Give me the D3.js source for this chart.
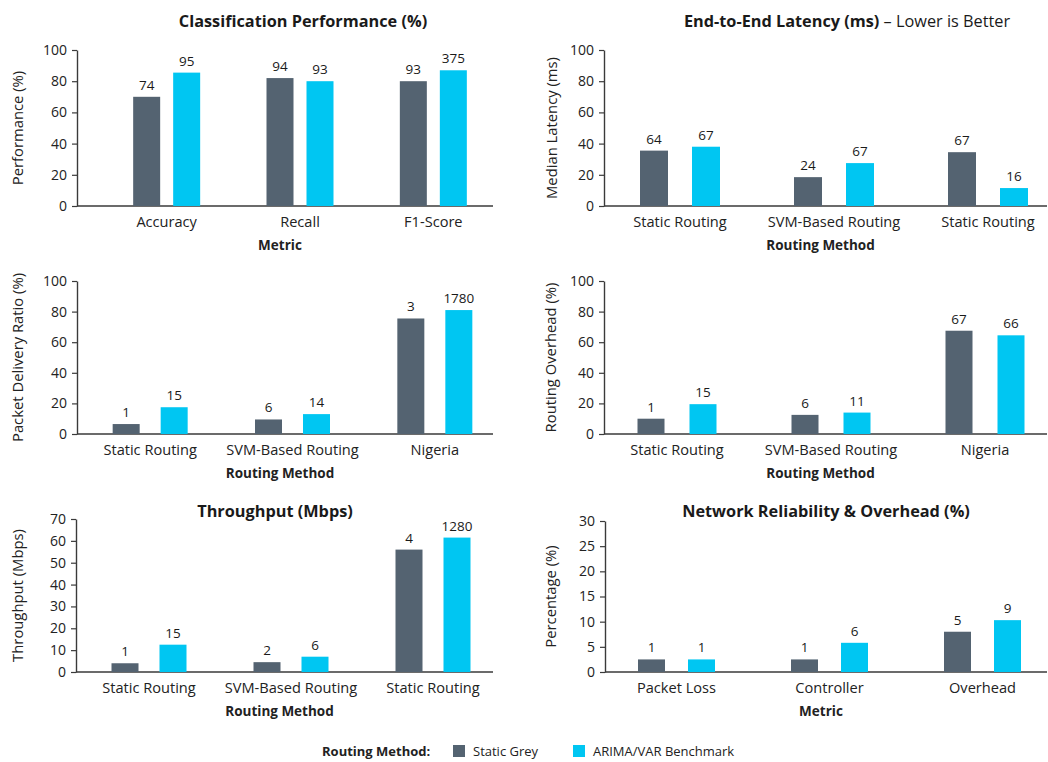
<!DOCTYPE html>
<html><head><meta charset="utf-8">
<script src="https://cdn.jsdelivr.net/npm/d3@7/dist/d3.min.js"></script>
<style>
body{margin:0;background:#fff;}
svg{display:block;font-family:"Open Sans","Noto Sans",sans-serif;}
</style></head>
<body><svg id="c" width="1048" height="762"></svg>
<script>
// ---- data ----
const seriesNames = ["Static Grey", "ARIMA/VAR Benchmark"];
const legendTitle = "Routing Method:";

const p1Categories = ["Accuracy", "Recall", "F1-Score"];
const p1Grey = [70, 82, 80];
const p1Cyan = [85.5, 80, 87];
const p1GreyLabels = ["74", "94", "93"];
const p1CyanLabels = ["95", "93", "375"];
const p1Ticks = [0, 20, 40, 60, 80, 100];

const p2Categories = ["Static Routing", "SVM-Based Routing", "Static Routing "];
const p2Grey = [35.5, 18.5, 34.5];
const p2Cyan = [38, 27.5, 11.5];
const p2GreyLabels = ["64", "24", "67"];
const p2CyanLabels = ["67", "67", "16"];
const p2Ticks = [0, 20, 40, 60, 80, 100];

const p3Categories = ["Static Routing", "SVM-Based Routing", "Nigeria"];
const p3Grey = [6.5, 9.5, 75.5];
const p3Cyan = [17.5, 13, 81];
const p3GreyLabels = ["1", "6", "3"];
const p3CyanLabels = ["15", "14", "1780"];
const p3Ticks = [0, 20, 40, 60, 80, 100];

const p4Categories = ["Static Routing", "SVM-Based Routing", "Nigeria"];
const p4Grey = [10, 12.5, 67.5];
const p4Cyan = [19.5, 14, 64.5];
const p4GreyLabels = ["1", "6", "67"];
const p4CyanLabels = ["15", "11", "66"];
const p4Ticks = [0, 20, 40, 60, 80, 100];

const p5Categories = ["Static Routing", "SVM-Based Routing", "Static Routing "];
const p5Grey = [4, 4.5, 56];
const p5Cyan = [12.5, 7, 61.5];
const p5GreyLabels = ["1", "2", "4"];
const p5CyanLabels = ["15", "6", "1280"];
const p5Ticks = [0, 10, 20, 30, 40, 50, 60, 70];

const p6Categories = ["Packet Loss", "Controller", "Overhead"];
const p6Grey = [2.5, 2.5, 8];
const p6Cyan = [2.5, 5.8, 10.3];
const p6GreyLabels = ["1", "1", "5"];
const p6CyanLabels = ["1", "6", "9"];
const p6Ticks = [0, 5, 10, 15, 20, 25, 30];

// ---- layout / styles ----
const colors = ["#546371", "#00c6f2"];
const svg = d3.select("#c");

const panels = [
  {cats:p1Categories, grey:p1Grey, cyan:p1Cyan, gl:p1GreyLabels, cl:p1CyanLabels, ticks:p1Ticks, max:100,
   title:[["Classification Performance (%)",true]], titleX:303, titleY:27,
   ylab:"Performance (%)", xlab:"Metric",
   ax:77, yTop:50, y0:206, xEnd:493, range:[100,500], off:20, bw:27, ylabX:18},
  {cats:p2Categories, grey:p2Grey, cyan:p2Cyan, gl:p2GreyLabels, cl:p2CyanLabels, ticks:p2Ticks, max:100,
   title:[["End-to-End Latency (ms)",true],[" \u2013 Lower is Better",false]], titleX:847, titleY:27,
   ylab:"Median Latency (ms)", xlab:"Routing Method",
   ax:604, yTop:50, y0:206, xEnd:1047, range:[603,1065], off:26, bw:28, ylabX:552},
  {cats:p3Categories, grey:p3Grey, cyan:p3Cyan, gl:p3GreyLabels, cl:p3CyanLabels, ticks:p3Ticks, max:100,
   title:null, ylab:"Packet Delivery Ratio (%)", xlab:"Routing Method",
   ax:77, yTop:281, y0:434, xEnd:493, range:[79,506], off:24, bw:27, ylabX:18},
  {cats:p4Categories, grey:p4Grey, cyan:p4Cyan, gl:p4GreyLabels, cl:p4CyanLabels, ticks:p4Ticks, max:100,
   title:null, ylab:"Routing Overhead (%)", xlab:"Routing Method",
   ax:604, yTop:281, y0:434, xEnd:1047, range:[600,1062], off:26, bw:27, ylabX:551},
  {cats:p5Categories, grey:p5Grey, cyan:p5Cyan, gl:p5GreyLabels, cl:p5CyanLabels, ticks:p5Ticks, max:70,
   title:[["Throughput (Mbps)",true]], titleX:275, titleY:517,
   ylab:"Throughput (Mbps)", xlab:"Routing Method",
   ax:76, yTop:519, y0:672, xEnd:493, range:[78,504], off:24, bw:27, ylabX:18},
  {cats:p6Categories, grey:p6Grey, cyan:p6Cyan, gl:p6GreyLabels, cl:p6CyanLabels, ticks:p6Ticks, max:30,
   title:[["Network Reliability & Overhead (%)",true]], titleX:826, titleY:517,
   ylab:"Percentage (%)", xlab:"Metric",
   ax:605, yTop:521, y0:672, xEnd:1047, range:[600,1059], off:25, bw:27, ylabX:551}
];

panels.forEach(p => {
  const g = svg.append("g");
  const y = d3.scaleLinear().domain([0, p.max]).range([p.y0, p.yTop]);
  const x = d3.scaleBand().domain(p.cats).range(p.range);
  const cx = c => x(c) + x.bandwidth() / 2;

  // title
  if (p.title) {
    const t = g.append("text").attr("x", p.titleX).attr("y", p.titleY)
      .attr("text-anchor", "middle").attr("font-size", 16.3).attr("fill", "#1a1a1a");
    p.title.forEach(([s, b]) => t.append("tspan").text(s).attr("font-weight", b ? 700 : 400));
  }

  // y axis
  const yAxis = d3.axisLeft(y).tickValues(p.ticks).tickSize(5).tickPadding(5).tickSizeOuter(0);
  const ya = g.append("g").attr("transform", `translate(${p.ax},0)`).call(yAxis);
  ya.select(".domain").attr("stroke", "#3a3a3a").attr("stroke-width", 1.4);
  ya.selectAll(".tick line").attr("stroke", "#3a3a3a").attr("stroke-width", 1.2);
  ya.selectAll(".tick text").attr("font-size", 14).attr("fill", "#222")
    .attr("font-family", '"Open Sans","Noto Sans",sans-serif');

  // x axis baseline
  g.append("line").attr("x1", p.ax).attr("x2", p.xEnd).attr("y1", p.y0).attr("y2", p.y0)
    .attr("stroke", "#3a3a3a").attr("stroke-width", 1.6);

  // category labels
  g.selectAll(".cat").data(p.cats).join("text")
    .attr("x", d => cx(d)).attr("y", p.y0 + 21)
    .attr("text-anchor", "middle").attr("font-size", 14.6).attr("fill", "#222")
    .text(d => d.trim());

  // bars
  const series = [
    {vals:p.grey, labs:p.gl, dx:-p.off, col:colors[0]},
    {vals:p.cyan, labs:p.cl, dx:p.off, col:colors[1]}
  ];
  series.forEach(s => {
    g.selectAll(null).data(p.cats).join("rect")
      .attr("x", (d, i) => cx(d) + s.dx - p.bw / 2)
      .attr("y", (d, i) => y(s.vals[i]))
      .attr("width", p.bw)
      .attr("height", (d, i) => p.y0 - y(s.vals[i]))
      .attr("fill", s.col);
    g.selectAll(null).data(p.cats).join("text")
      .attr("x", (d, i) => cx(d) + s.dx)
      .attr("y", (d, i) => y(s.vals[i]) - 7)
      .attr("text-anchor", "middle").attr("font-size", 13.5).attr("fill", "#1a1a1a")
      .text((d, i) => s.labs[i]);
  });

  // axis titles
  g.append("text").attr("x", (p.ax + p.xEnd) / 2 - 5).attr("y", p.y0 + 44)
    .attr("text-anchor", "middle").attr("font-size", 13.5).attr("font-weight", 700).attr("fill", "#222")
    .text(p.xlab);
  g.append("text")
    .attr("transform", `translate(${p.ylabX + 5},${(p.y0 + p.yTop) / 2}) rotate(-90)`)
    .attr("text-anchor", "middle").attr("font-size", 14.8).attr("fill", "#222")
    .text(p.ylab);
});

// legend
const lg = svg.append("g");
lg.append("text").attr("x", 322).attr("y", 756).attr("font-size", 13).attr("font-weight", 700)
  .attr("fill", "#222").text(legendTitle);
const legX = [453, 573];
seriesNames.forEach((n, i) => {
  lg.append("rect").attr("x", legX[i]).attr("y", 745).attr("width", 12).attr("height", 12).attr("fill", colors[i]);
  lg.append("text").attr("x", legX[i] + 20).attr("y", 756).attr("font-size", 13).attr("fill", "#222").text(n);
});
</script></body></html>
